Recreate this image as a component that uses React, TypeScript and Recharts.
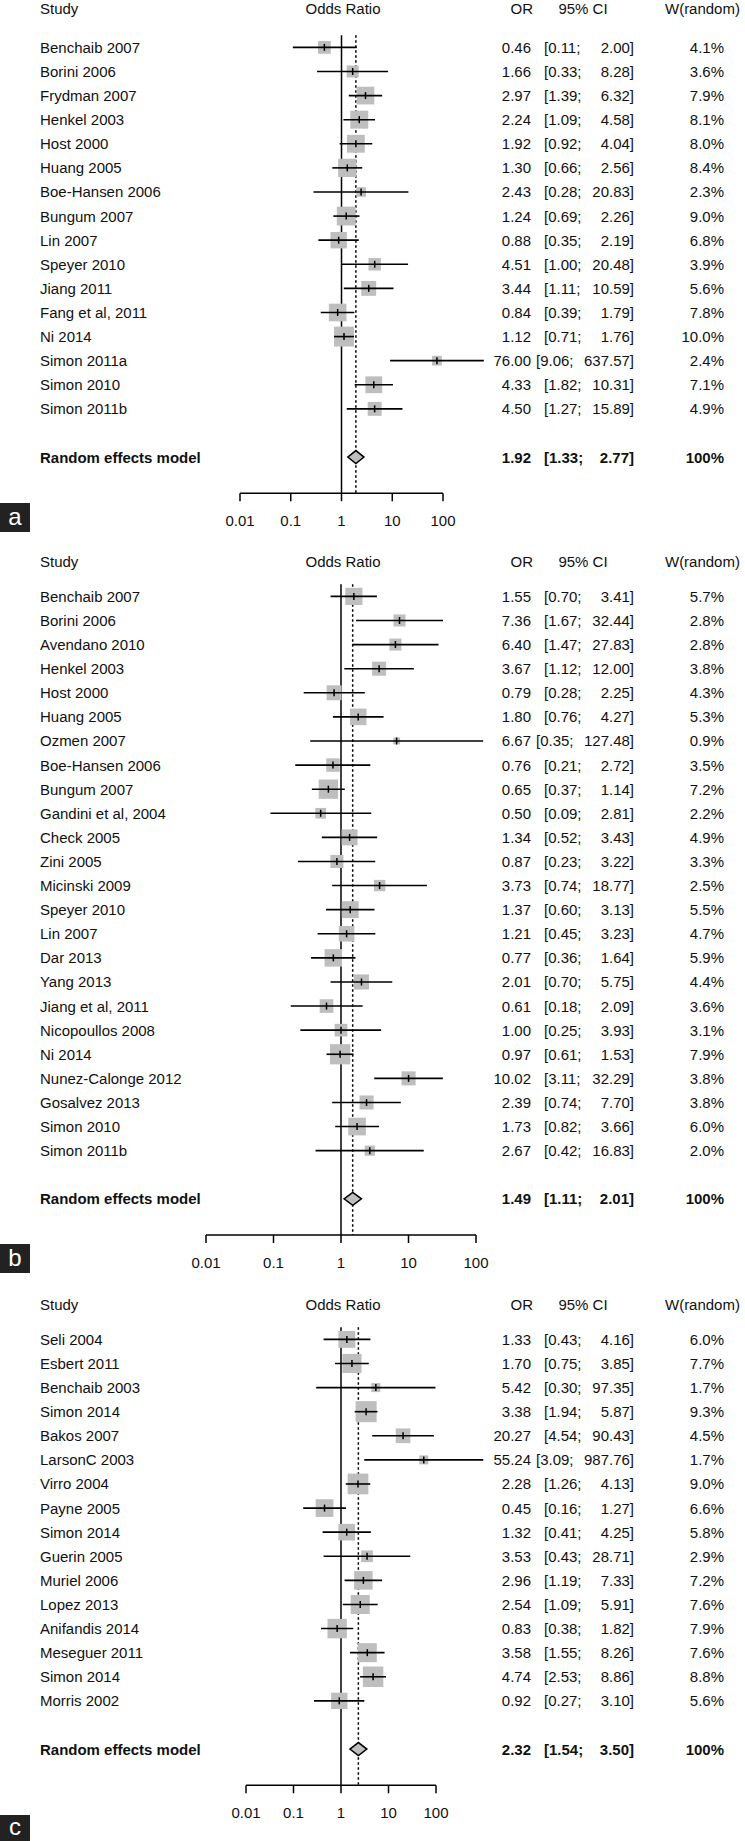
import React from 'react';
import { ScatterChart, Scatter, XAxis, YAxis, ReferenceLine, ReferenceArea } from 'recharts';

// ---------- Panel a ----------
const studiesA = ['Benchaib 2007', 'Borini 2006', 'Frydman 2007', 'Henkel 2003', 'Host 2000', 'Huang 2005', 'Boe-Hansen 2006', 'Bungum 2007', 'Lin 2007', 'Speyer 2010', 'Jiang 2011', 'Fang et al, 2011', 'Ni 2014', 'Simon 2011a', 'Simon 2010', 'Simon 2011b'];
const orA = [0.46, 1.66, 2.97, 2.24, 1.92, 1.30, 2.43, 1.24, 0.88, 4.51, 3.44, 0.84, 1.12, 76.00, 4.33, 4.50];
const loA = [0.11, 0.33, 1.39, 1.09, 0.92, 0.66, 0.28, 0.69, 0.35, 1.00, 1.11, 0.39, 0.71, 9.06, 1.82, 1.27];
const hiA = [2.00, 8.28, 6.32, 4.58, 4.04, 2.56, 20.83, 2.26, 2.19, 20.48, 10.59, 1.79, 1.76, 637.57, 10.31, 15.89];
const wA = [4.1, 3.6, 7.9, 8.1, 8.0, 8.4, 2.3, 9.0, 6.8, 3.9, 5.6, 7.8, 10.0, 2.4, 7.1, 4.9];
const pooledA = [1.92, 1.33, 2.77];

// ---------- Panel b ----------
const studiesB = ['Benchaib 2007', 'Borini 2006', 'Avendano 2010', 'Henkel 2003', 'Host 2000', 'Huang 2005', 'Ozmen 2007', 'Boe-Hansen 2006', 'Bungum 2007', 'Gandini et al, 2004', 'Check 2005', 'Zini 2005', 'Micinski 2009', 'Speyer 2010', 'Lin 2007', 'Dar 2013', 'Yang 2013', 'Jiang et al, 2011', 'Nicopoullos 2008', 'Ni 2014', 'Nunez-Calonge 2012', 'Gosalvez 2013', 'Simon 2010', 'Simon 2011b'];
const orB = [1.55, 7.36, 6.40, 3.67, 0.79, 1.80, 6.67, 0.76, 0.65, 0.50, 1.34, 0.87, 3.73, 1.37, 1.21, 0.77, 2.01, 0.61, 1.00, 0.97, 10.02, 2.39, 1.73, 2.67];
const loB = [0.70, 1.67, 1.47, 1.12, 0.28, 0.76, 0.35, 0.21, 0.37, 0.09, 0.52, 0.23, 0.74, 0.60, 0.45, 0.36, 0.70, 0.18, 0.25, 0.61, 3.11, 0.74, 0.82, 0.42];
const hiB = [3.41, 32.44, 27.83, 12.00, 2.25, 4.27, 127.48, 2.72, 1.14, 2.81, 3.43, 3.22, 18.77, 3.13, 3.23, 1.64, 5.75, 2.09, 3.93, 1.53, 32.29, 7.70, 3.66, 16.83];
const wB = [5.7, 2.8, 2.8, 3.8, 4.3, 5.3, 0.9, 3.5, 7.2, 2.2, 4.9, 3.3, 2.5, 5.5, 4.7, 5.9, 4.4, 3.6, 3.1, 7.9, 3.8, 3.8, 6.0, 2.0];
const pooledB = [1.49, 1.11, 2.01];

// ---------- Panel c ----------
const studiesC = ['Seli 2004', 'Esbert 2011', 'Benchaib 2003', 'Simon 2014', 'Bakos 2007', 'LarsonC 2003', 'Virro 2004', 'Payne 2005', 'Simon 2014', 'Guerin 2005', 'Muriel 2006', 'Lopez 2013', 'Anifandis 2014', 'Meseguer 2011', 'Simon 2014', 'Morris 2002'];
const orC = [1.33, 1.70, 5.42, 3.38, 20.27, 55.24, 2.28, 0.45, 1.32, 3.53, 2.96, 2.54, 0.83, 3.58, 4.74, 0.92];
const loC = [0.43, 0.75, 0.30, 1.94, 4.54, 3.09, 1.26, 0.16, 0.41, 0.43, 1.19, 1.09, 0.38, 1.55, 2.53, 0.27];
const hiC = [4.16, 3.85, 97.35, 5.87, 90.43, 987.76, 4.13, 1.27, 4.25, 28.71, 7.33, 5.91, 1.82, 8.26, 8.86, 3.10];
const wC = [6.0, 7.7, 1.7, 9.3, 4.5, 1.7, 9.0, 6.6, 5.8, 2.9, 7.2, 7.6, 7.9, 7.6, 8.8, 5.6];
const pooledC = [2.32, 1.54, 3.50];

// ---------- shared labels ----------
const axisTicks = [0.01, 0.1, 1, 10, 100];
const headerLabels = ['Study', 'Odds Ratio', 'OR', '95% CI', 'W(random)'];
const pooledLabel = 'Random effects model';
const pooledWeight = '100%';
const panelLetters = ['a', 'b', 'c'];

// ---------- layout (styles / positions only) ----------
const FONT = '"Liberation Sans", Arial, Helvetica, sans-serif';
const TEXT = '#111';
const BOX = '#BEBEBE';
const ROW = 24.1;
const Y_MIN = -0.8;
const M_TOP = 5;
const XH = 40;
const M_BOTTOM = 5;
const COL = { study: 40, or: 531, ciL: 544, ciR: 634, w: 724, hOdds: 343, hOR: 533, hCI: 583, hW: 665 };

const layouts = [
  { firstRowY: 47.5, headerRow: -0.6, x001: 240, x100: 443, k: 6.3, letterTop: 503, letterH: 29 },
  { firstRowY: 596, headerRow: -0.43, x001: 206, x100: 476, k: 7.2, letterTop: 1244, letterH: 29 },
  { firstRowY: 1339, headerRow: -0.45, x001: 246, x100: 436, k: 6.9, letterTop: 1815, letterH: 26 },
];

const panels = [
  { names: studiesA, or: orA, lo: loA, hi: hiA, w: wA, pooled: pooledA },
  { names: studiesB, or: orB, lo: loB, hi: hiB, w: wB, pooled: pooledB },
  { names: studiesC, or: orC, lo: loC, hi: hiC, w: wC, pooled: pooledC },
];

const fmt = (v: number) => v.toFixed(2);

function renderText(p: any) {
  const { cy, payload } = p;
  const base: any = { fontFamily: FONT, fontSize: 15, fill: TEXT, dominantBaseline: 'central' };
  if (payload.kind === 'header') {
    return (
      <g>
        <text x={COL.study} y={cy} {...base}>{headerLabels[0]}</text>
        <text x={COL.hOdds} y={cy} textAnchor="middle" {...base}>{headerLabels[1]}</text>
        <text x={COL.hOR} y={cy} textAnchor="end" {...base}>{headerLabels[2]}</text>
        <text x={COL.hCI} y={cy} textAnchor="middle" {...base}>{headerLabels[3]}</text>
        <text x={COL.hW} y={cy} {...base}>{headerLabels[4]}</text>
      </g>
    );
  }
  const bold = payload.kind === 'pooled';
  const st = { ...base, fontWeight: bold ? 'bold' : 'normal' };
  const hiStr = fmt(payload.hi) + ']';
  const shift = hiStr.length > 6 ? 8 : 0;
  return (
    <g>
      <text x={COL.study} y={cy} {...st}>{payload.name}</text>
      <text x={COL.or} y={cy} textAnchor="end" {...st}>{fmt(payload.or)}</text>
      <text x={COL.ciL - shift} y={cy} {...st}>{'[' + fmt(payload.lo) + ';'}</text>
      <text x={COL.ciR} y={cy} textAnchor="end" {...st}>{hiStr}</text>
      <text x={COL.w} y={cy} textAnchor="end" {...st}>{payload.wLabel}</text>
    </g>
  );
}

function makeSquare(k: number) {
  return (p: any) => {
    const { cx, cy, payload } = p;
    const side = k * Math.sqrt(payload.w);
    return (
      <g>
        <rect x={cx - side / 2} y={cy - side / 2} width={side} height={side} fill={BOX} />
        <line x1={cx} x2={cx} y1={cy - 3.5} y2={cy + 3.5} stroke="#000" strokeWidth={1.5} />
      </g>
    );
  };
}

function renderDiamond(p: any) {
  const { x, y, width, height } = p;
  const mx = x + width / 2;
  const my = y + height / 2;
  const pts = `${x},${my} ${mx},${y} ${x + width},${my} ${mx},${y + height}`;
  return <polygon points={pts} fill={BOX} stroke="#000" strokeWidth={1.5} />;
}

function Forest({ panel, layout }: { panel: any; layout: any }) {
  const n = panel.names.length;
  const yMax = n + 3.5;
  const reRow = n + 2;
  const plotTop = layout.firstRowY - (1 - Y_MIN) * ROW;
  const plotH = (yMax - Y_MIN) * ROW;
  const height = M_TOP + plotH + XH + M_BOTTOM;
  const top = plotTop - M_TOP;

  const studies = panel.names.map((name: string, i: number) => ({
    x: panel.or[i], y: i + 1, name, or: panel.or[i], lo: panel.lo[i], hi: panel.hi[i], w: panel.w[i],
    wLabel: panel.w[i].toFixed(1) + '%', kind: 'study',
  }));
  const textRows = [
    { x: 1, y: layout.headerRow, kind: 'header' },
    ...studies.map((s: any) => ({ ...s, x: 1 })),
    { x: 1, y: reRow, kind: 'pooled', name: pooledLabel, or: panel.pooled[0], lo: panel.pooled[1], hi: panel.pooled[2], wLabel: pooledWeight },
  ];

  return (
    <div style={{ position: 'absolute', left: 0, top, width: 745, height }}>
      <ScatterChart width={745} height={height} margin={{ top: M_TOP, right: 745 - layout.x100, bottom: M_BOTTOM, left: layout.x001 }}>
        <XAxis
          dataKey="x"
          type="number"
          scale="log"
          domain={[axisTicks[0], axisTicks[axisTicks.length - 1]]}
          ticks={axisTicks}
          interval={0}
          height={XH}
          tickSize={8}
          tickMargin={14}
          axisLine={{ stroke: '#000', strokeWidth: 1.5 }}
          tickLine={{ stroke: '#000', strokeWidth: 1.5 }}
          tick={{ fontSize: 15, fill: TEXT, fontFamily: FONT }}
          tickFormatter={(v: number) => String(v)}
        />
        <YAxis dataKey="y" type="number" domain={[Y_MIN, yMax]} reversed hide />
        <ReferenceLine
          segment={[{ x: 1, y: 0.5 }, { x: 1, y: yMax }]}
          stroke="#000"
          strokeWidth={1.5}
          ifOverflow="visible"
        />
        <ReferenceLine
          segment={[{ x: panel.pooled[0], y: 0.5 }, { x: panel.pooled[0], y: yMax }]}
          stroke="#000"
          strokeWidth={1.5}
          strokeDasharray="2.5 2.5"
          ifOverflow="visible"
        />
        <Scatter data={studies} shape={makeSquare(layout.k)} isAnimationActive={false} />
        {studies.map((s: any, i: number) => (
          <ReferenceLine
            key={'ci' + i}
            segment={[{ x: s.lo, y: s.y }, { x: s.hi, y: s.y }]}
            stroke="#000"
            strokeWidth={1.6}
            ifOverflow="visible"
            zIndex={1000}
          />
        ))}
        <ReferenceArea
          x1={panel.pooled[1]}
          x2={panel.pooled[2]}
          y1={reRow - 0.27}
          y2={reRow + 0.27}
          ifOverflow="visible"
          shape={renderDiamond}
          zIndex={1000}
        />
        <Scatter data={textRows} shape={renderText} isAnimationActive={false} />
      </ScatterChart>
    </div>
  );
}

export default function App() {
  return (
    <div style={{ position: 'absolute', left: 0, top: 0, width: 745, height: 1841, overflow: 'hidden', background: '#fff' }}>
      {panels.map((p, i) => (
        <Forest key={i} panel={p} layout={layouts[i]} />
      ))}
      {layouts.map((l, i) => (
        <div
          key={'letter' + i}
          style={{
            position: 'absolute', left: 0, top: l.letterTop, width: 30, height: l.letterH, background: '#222',
            color: '#fff', fontFamily: FONT, fontSize: 24, lineHeight: l.letterH - 2 + 'px', textAlign: 'center',
          }}
        >
          {panelLetters[i]}
        </div>
      ))}
    </div>
  );
}
